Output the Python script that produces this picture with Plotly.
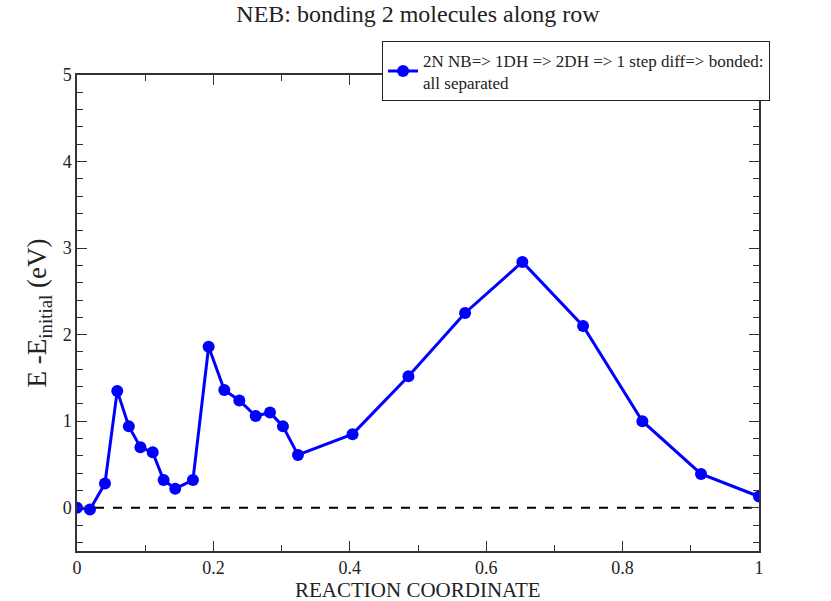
import plotly.graph_objects as go

reaction_coord = [0.0, 0.019, 0.041, 0.059, 0.076, 0.093, 0.111, 0.127, 0.144, 0.170,
                  0.193, 0.216, 0.238, 0.262, 0.283, 0.302, 0.324, 0.404, 0.486,
                  0.569, 0.653, 0.742, 0.829, 0.915, 1.0]
energy = [0.0, -0.02, 0.28, 1.35, 0.94, 0.70, 0.64, 0.32, 0.22, 0.32,
          1.86, 1.36, 1.24, 1.06, 1.10, 0.94, 0.61, 0.85, 1.52,
          2.25, 2.84, 2.10, 1.00, 0.39, 0.13]
series_name = "2N NB=> 1DH => 2DH => 1 step diff=> bonded:<br>all separated"
x_title = "REACTION COORDINATE"
baseline_x = [0.0, 1.0]
baseline_y = [0.0, 0.0]

serif = "Liberation Serif, Times New Roman, serif"

fig = go.Figure()
fig.add_trace(go.Scatter(x=baseline_x, y=baseline_y, mode="lines",
                         line=dict(color="black", width=2, dash="dash"),
                         showlegend=False, hoverinfo="skip"))
fig.add_trace(go.Scatter(x=reaction_coord, y=energy, mode="lines+markers",
                         name=series_name,
                         line=dict(color="#0000ff", width=3),
                         marker=dict(color="#0000ff", size=12)))

axis_common = dict(showline=True, linecolor="#333333", linewidth=1.5, mirror="ticks",
                   ticks="inside", tickcolor="#333333", ticklen=10, tickwidth=1.2,
                   showgrid=False, zeroline=False, automargin=False,
                   tickfont=dict(family=serif, size=18, color="#222222"))

fig.update_layout(
    width=831, height=601,
    margin=dict(l=77, r=72, t=75, b=50),
    paper_bgcolor="white", plot_bgcolor="white",
    title=dict(text="NEB: bonding 2 molecules along row", x=0.503, xanchor="center",
               y=0.977, yanchor="middle",
               font=dict(family=serif, size=24, color="#222222")),
    xaxis=dict(range=[0, 1], tickvals=[0, 0.2, 0.4, 0.6, 0.8, 1.0],
               ticktext=["0", "0.2", "0.4", "0.6", "0.8", "1"],
               minor=dict(dtick=0.1, ticks="inside", ticklen=6, tickcolor="#333333"),
               **axis_common),
    yaxis=dict(range=[-0.5, 5], tickvals=[0, 1, 2, 3, 4, 5],
               minor=dict(dtick=0.2, ticks="inside", ticklen=6, tickcolor="#333333"),
               title=dict(text="E -E<sub>initial</sub> (eV)", standoff=8,
                          font=dict(family=serif, size=27, color="#222222")),
               **axis_common),
    legend=dict(x=0.447, y=1.071, xanchor="left", yanchor="top",
                bgcolor="white", bordercolor="#222222", borderwidth=1.2,
                font=dict(family=serif, size=17, color="#222222")),
    annotations=[dict(text=x_title, xref="paper", yref="paper", x=0.5, y=-0.081,
                      xanchor="center", yanchor="middle", showarrow=False,
                      borderpad=0,
                      font=dict(family=serif, size=21, color="#222222"))],
)

fig.write_html("out.html")
